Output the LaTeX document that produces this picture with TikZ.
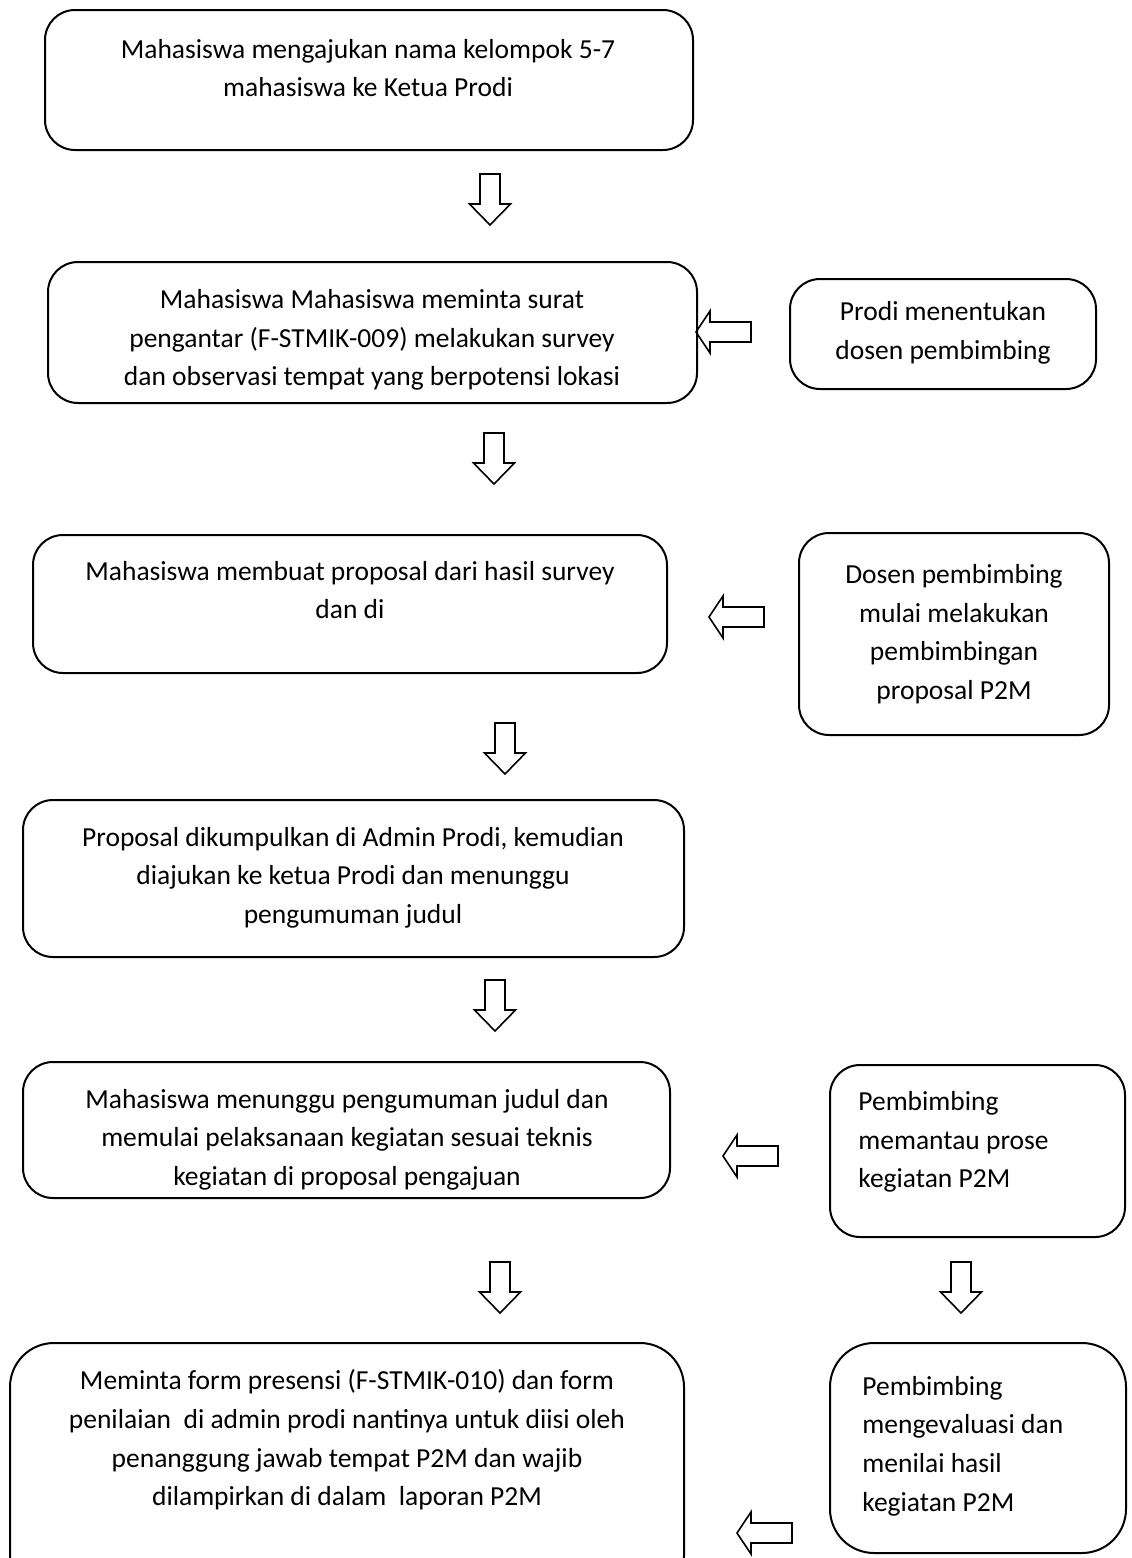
\documentclass[tikz,border=0pt]{standalone}
\usepackage{fontspec}
\setmainfont{Carlito}
\usetikzlibrary{positioning}

\tikzset{
  flowbox/.style={draw, line width=1pt, rounded corners=15pt, inner sep=0pt},
  flowtxt/.style={align=center, inner sep=0pt, font=\fontsize{13.75pt}{19.3pt}\selectfont},
  sidetxt/.style={align=left, inner sep=0pt, anchor=west, font=\fontsize{13.75pt}{19.3pt}\selectfont},
  downblk/.pic={\draw[line width=0.8pt] (-10,0) -- (10,0) -- (10,30) -- (20.5,30) -- (0,51) -- (-20.5,30) -- (-10,30) -- cycle;},
  leftblk/.pic={\draw[line width=0.8pt] (0,0) -- (14,-21) -- (14,-10) -- (55,-10) -- (55,10) -- (14,10) -- (14,21) -- cycle;}
}

\begin{document}
\begin{tikzpicture}[x=0.5pt, y=-0.5pt]
\useasboundingbox (0,0) rectangle (1131,1558);

% main column
\node[flowbox, minimum width=324pt, minimum height=70pt] (b1) at (369,80) {};
\node[flowtxt] (t1) at (368,68) {Mahasiswa mengajukan nama kelompok 5-7\\mahasiswa ke Ketua Prodi};

\node[flowbox, minimum width=324.5pt, minimum height=70.5pt] (b2) at (372.5,332.5) {};
\begin{scope}
  \clip (48,262) rectangle (697,392);
  \node[flowtxt] (t2) at (372,340) {Mahasiswa Mahasiswa meminta surat\\pengantar (F-STMIK-009) melakukan survey\\dan observasi tempat yang berpotensi lokasi};
\end{scope}

\node[flowbox, minimum width=317pt, minimum height=69pt] (b3) at (350,604) {};
\node[flowtxt] (t3) at (350,590) {Mahasiswa membuat proposal dari hasil survey\\dan di};

\node[flowbox, minimum width=330.5pt, minimum height=78.5pt] (b4) at (353.5,878.5) {};
\node[flowtxt] (t4) at (353,877.5) {Proposal dikumpulkan di Admin Prodi, kemudian\\diajukan ke ketua Prodi dan menunggu\\pengumuman judul};

\node[flowbox, minimum width=323.5pt, minimum height=68pt] (b5) at (346.5,1130) {};
\node[flowtxt] (t5) at (347,1139.5) {Mahasiswa menunggu pengumuman judul dan\\memulai pelaksanaan kegiatan sesuai teknis\\kegiatan di proposal pengajuan};

\node[flowbox, rounded corners=22pt, minimum width=337pt, minimum height=128.5pt] (b6) at (347,1471.5) {};
\node[flowtxt] (t6) at (347,1440) {Meminta form presensi (F-STMIK-010) dan form\\penilaian~ di admin prodi nantinya untuk diisi oleh\\penanggung jawab tempat P2M dan wajib\\dilampirkan di dalam~ laporan P2M};

% side column
\node[flowbox, minimum width=153pt, minimum height=55pt] (s1) at (943,334) {};
\node[flowtxt] (u1) at (943,333) {Prodi menentukan\\dosen pembimbing};

\node[flowbox, minimum width=155pt, minimum height=101pt] (s2) at (954,634) {};
\node[flowtxt] (u2) at (954,634) {Dosen pembimbing\\mulai melakukan\\pembimbingan\\proposal P2M};

\node[flowbox, minimum width=147.5pt, minimum height=86pt] (s3) at (977.5,1151) {};
\node[sidetxt] (u3) at (858,1142) {Pembimbing\\memantau prose\\kegiatan P2M};

\node[flowbox, rounded corners=22pt, minimum width=148pt, minimum height=105pt] (s4) at (978,1448) {};
\node[sidetxt] (u4) at (862,1446) {Pembimbing\\mengevaluasi dan\\menilai hasil\\kegiatan P2M};

% block arrows down
\pic at (490,174) {downblk};
\pic at (494,433) {downblk};
\pic at (505,723) {downblk};
\pic at (495,980) {downblk};
\pic at (500,1262) {downblk};
\pic at (961,1262) {downblk};

% block arrows left
\pic at (696,332) {leftblk};
\pic at (709,617) {leftblk};
\pic at (723,1156) {leftblk};
\pic at (737,1533) {leftblk};

\end{tikzpicture}
\end{document}
